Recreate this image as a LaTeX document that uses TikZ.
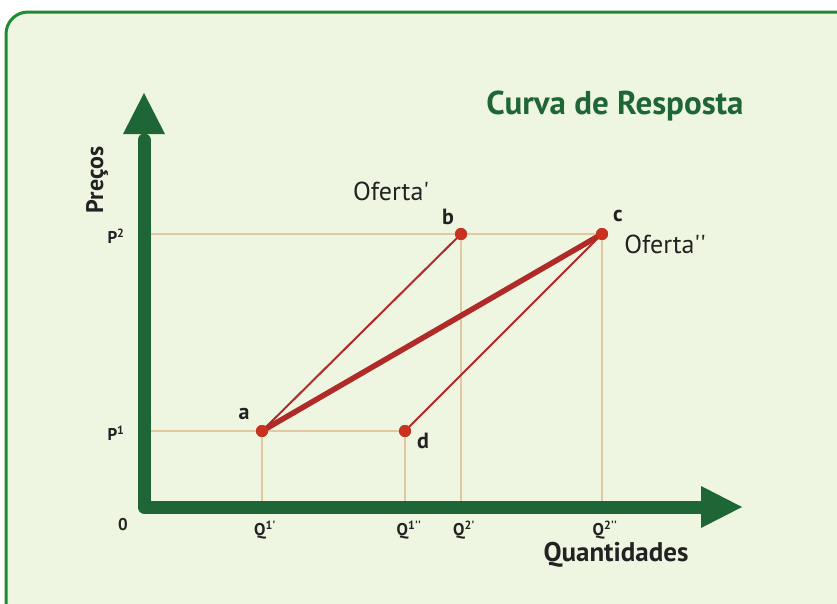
\documentclass[tikz,border=0pt]{standalone}
\usepackage{fontspec}
\newfontfamily\pts{PT Sans}
\usetikzlibrary{arrows.meta}
\definecolor{framegreen}{HTML}{1E8C32}
\definecolor{bggreen}{HTML}{EEF6E2}
\definecolor{axisgreen}{HTML}{1F6637}
\definecolor{redline}{HTML}{B02A28}
\definecolor{dotred}{HTML}{C8321F}
\definecolor{guide}{HTML}{E2C8A0}
\definecolor{txt}{HTML}{222222}
\tikzset{
  guideline/.style={draw=guide, line width=1.2pt},
  axisline/.style={draw=axisgreen, line width=13pt, line cap=round, line join=round},
  dotnode/.style={circle, fill=dotred, inner sep=0pt, minimum size=12pt},
  ptlabel/.style={font=\pts\bfseries\fontsize{22}{24}\selectfont, text=txt, inner sep=0pt},
  ticklabel/.style={font=\pts\bfseries\fontsize{17}{19}\selectfont, text=txt, inner sep=0pt},
  curvelabel/.style={font=\pts\fontsize{26}{28}\selectfont, text=txt, inner sep=0pt},
  thinred/.style={draw=redline, line width=2pt},
  thickred/.style={draw=redline, line width=5.5pt}
}
\begin{document}
\begin{tikzpicture}[x=1pt,y=-1pt]
\useasboundingbox (0,0) rectangle (837,603);
\fill[white] (0,0) rectangle (837,603);
\draw[framegreen, line width=3pt, fill=bggreen, rounded corners=22pt] (6,12) rectangle (860,640);
% key points
\coordinate (O) at (144,507);
\coordinate (ytop) at (144,93);
\coordinate (xend) at (742,507);
\node[dotnode] (a) at (262,431) {};
\node[dotnode] (d) at (405,431) {};
\node[dotnode] (b) at (461,234) {};
\node[dotnode] (c) at (602,234) {};
\coordinate (P2) at (150,234);
\coordinate (P1) at (150,431);
\coordinate (qa) at (262,507);
\coordinate (qd) at (405,507);
\coordinate (qb) at (461,507);
\coordinate (qc) at (602,507);
% guides
\draw[guideline] (P2) -- (c.center);
\draw[guideline] (P1) -- (d.center);
\draw[guideline] (a.center) -- (qa);
\draw[guideline] (d.center) -- (qd);
\draw[guideline] (b.center) -- (qb);
\draw[guideline] (c.center) -- (qc);
% axes
\draw[axisline] (144,140) -- (O) -- (700,507);
\fill[axisgreen] (ytop) -- (123,134) -- (165,134) -- cycle;
\fill[axisgreen] (xend) -- (701,486) -- (701,528) -- cycle;
% red lines
\draw[thinred] (a.center) -- (b.center);
\draw[thickred] (a.center) -- (c.center);
\draw[thinred] (d.center) -- (c.center);
\node[dotnode] at (a) {};
\node[dotnode] at (b) {};
\node[dotnode] at (c) {};
\node[dotnode] at (d) {};
% labels
\node[ptlabel] (la) at (244,414) {a};
\node[ptlabel] (lb) at (448,217) {b};
\node[ptlabel] (lc) at (618,216) {c};
\node[ptlabel] (ld) at (423,441) {d};
\node[curvelabel] (of1) at (391,191) {Oferta'};
\node[curvelabel] (of2) at (665,244) {Oferta''};
\node[font=\pts\bfseries\fontsize{33}{35}\selectfont, text=axisgreen, inner sep=0pt] (title) at (615,106) {Curva de Resposta};
\node[font=\pts\bfseries\fontsize{24}{26}\selectfont, text=txt, inner sep=0pt, rotate=90] (yl) at (97,180) {Preços};
\node[font=\pts\bfseries\fontsize{27}{29}\selectfont, text=txt, inner sep=0pt] (xl) at (616,555) {Quantidades};
\node[ticklabel] (t0) at (123,525) {0};
\node[ticklabel] (tp2) at (116,236) {P\textsuperscript{2}};
\node[ticklabel] (tp1) at (116,433) {P\textsuperscript{1}};
\node[ticklabel] (tq1) at (265,530) {Q\textsuperscript{1'}};
\node[ticklabel] (tq2) at (409,530) {Q\textsuperscript{1''}};
\node[ticklabel] (tq3) at (464,530) {Q\textsuperscript{2'}};
\node[ticklabel] (tq4) at (605,530) {Q\textsuperscript{2''}};
\end{tikzpicture}
\end{document}
